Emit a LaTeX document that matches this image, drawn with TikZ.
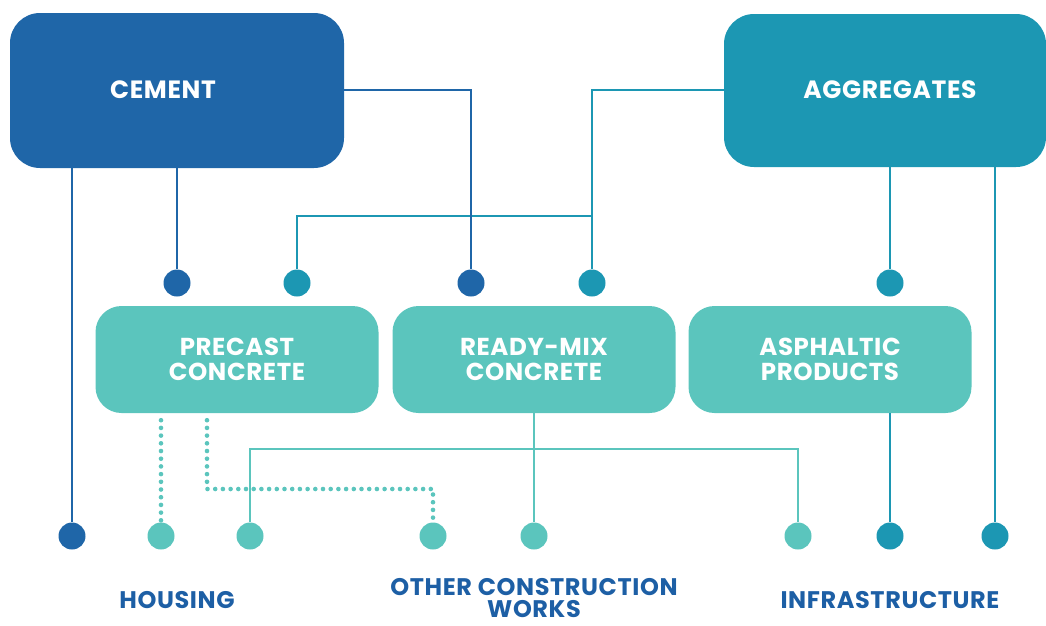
\documentclass[tikz,border=0pt]{standalone}
\usepackage{fontspec}
\setmainfont{Poppins}[LetterSpace=2.5]
\definecolor{cementblue}{RGB}{31,102,168}
\definecolor{aggteal}{RGB}{28,151,179}
\definecolor{prodteal}{RGB}{91,197,189}
\definecolor{labelblue}{RGB}{29,95,165}
\begin{document}
\begin{tikzpicture}[x=1pt,y=-1pt,
  bigbox/.style={rounded corners=30pt, minimum width=334pt, minimum height=155pt, inner sep=0pt},
  prodbox/.style={rounded corners=26pt, fill=prodteal, minimum width=283pt, minimum height=107pt,
                  inner sep=0pt, align=center, text=white, font=\fontsize{24.5}{25}\selectfont\bfseries},
  toptext/.style={text=white, font=\fontsize{25}{26}\selectfont\bfseries},
  endtext/.style={text=labelblue, align=center, inner sep=0pt, font=\fontsize{24}{22}\selectfont\bfseries},
  pin/.style={circle, minimum size=27pt, inner sep=0pt},
  wire/.style={line width=2.8pt},
  dotwire/.style={line width=4.6pt, line cap=round, dash pattern=on 0pt off 7.7pt, draw=prodteal}]
  \useasboundingbox (0,0) rectangle (1046,625);

  % source boxes
  \node[bigbox, fill=cementblue] (cement) at (177,90.5) {};
  \node[toptext] (cementtxt) at (163,90) {CEMENT};
  \node[bigbox, fill=aggteal, minimum width=322pt, minimum height=153pt] (agg) at (885,90.5) {};
  \node[toptext] (aggtxt) at (890,90) {AGGREGATES};

  % product boxes
  \node[prodbox] (precast) at (237,359.5) {PRECAST\\CONCRETE};
  \node[prodbox] (readymix) at (534,359.5) {READY-MIX\\CONCRETE};
  \node[prodbox] (asphalt) at (830,359.5) {ASPHALTIC\\PRODUCTS};

  % input pins above the product boxes
  \node[pin, fill=cementblue] (pcC) at (177,283) {};
  \node[pin, fill=aggteal]    (pcA) at (297,283) {};
  \node[pin, fill=cementblue] (rmC) at (471,283) {};
  \node[pin, fill=aggteal]    (rmA) at (592,283) {};
  \node[pin, fill=aggteal]    (apA) at (890,283) {};

  % end-use pins
  \node[pin, fill=cementblue] (e1) at (72,536) {};
  \node[pin, fill=prodteal]   (e2) at (161,536) {};
  \node[pin, fill=prodteal]   (e3) at (250,536) {};
  \node[pin, fill=prodteal]   (e4) at (433,536) {};
  \node[pin, fill=prodteal]   (e5) at (534,536) {};
  \node[pin, fill=prodteal]   (e6) at (798,536) {};
  \node[pin, fill=aggteal]    (e7) at (890,536) {};
  \node[pin, fill=aggteal]    (e8) at (995,536) {};

  % end-use labels
  \node[endtext] (housing) at (177,600) {HOUSING};
  \node[endtext] (other) at (534,598) {OTHER CONSTRUCTION\\WORKS};
  \node[endtext] (infra) at (890,600) {INFRASTRUCTURE};

  % junction points
  \coordinate (aggsplit) at (592,216);
  \coordinate (dotturn) at (207,489);

  % aggregates links
  \draw[wire, draw=aggteal] (agg.west |- aggtxt) -| (rmA.north);
  \draw[wire, draw=aggteal] (aggsplit) -| (pcA.north);
  \draw[wire, draw=aggteal] (agg.south -| apA) -- (apA.north);
  \draw[wire, draw=aggteal] (agg.south -| e8) -- (e8.north);

  % cement links
  \draw[wire, draw=cementblue] (cement.east |- cementtxt) -| (rmC.north);
  \draw[wire, draw=cementblue] (cement.south -| pcC) -- (pcC.north);
  \draw[wire, draw=cementblue] (cement.south -| e1) -- (e1.north);

  % product links
  \draw[wire, draw=prodteal] (readymix.south) -- (e5.north);
  \draw[wire, draw=prodteal] (e3.north) |- (250,449) -| (e6.north);
  \draw[wire, draw=aggteal] (asphalt.south -| e7) -- (e7.north);
  \draw[dotwire] (precast.south -| e2) ++(0,7) -- (e2.north);
  \draw[dotwire] (precast.south -| dotturn) ++(0,7) -- (dotturn) -| (e4.north);
\end{tikzpicture}
\end{document}
